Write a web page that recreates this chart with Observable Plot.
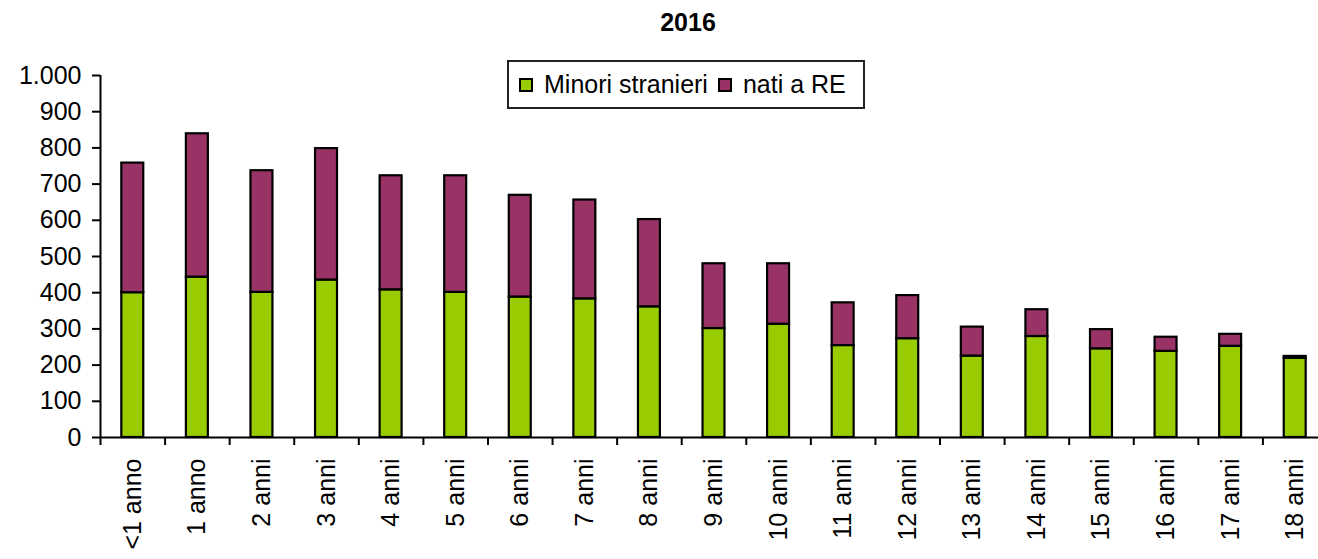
<!DOCTYPE html>
<html><head><meta charset="utf-8">
<script src="https://cdn.jsdelivr.net/npm/d3@7"></script>
<script src="https://cdn.jsdelivr.net/npm/@observablehq/plot@0.6"></script>
<style>
body{margin:0;background:#fff;font-family:"Liberation Sans",Arial,sans-serif;}
#wrap{position:relative;width:1318px;height:559px;overflow:hidden;background:#fff;}
#title{position:absolute;left:688px;top:6px;transform:translateX(-50%);font-weight:bold;font-size:25px;color:#000;line-height:32px;}
#chart{position:absolute;left:0;top:45px;}
#legend{position:absolute;left:507px;top:60px;width:354px;height:45px;border:2px solid #222;background:#fff;display:flex;align-items:center;font-size:25px;color:#000;box-sizing:content-box;}
.item{display:flex;align-items:center;margin-left:10px;}
.sw{width:10px;height:10px;border:2px solid #000;margin-right:11px;}
</style></head><body>
<div id="wrap">
<div id="title">2016</div>
<div id="chart"></div>
<div id="legend"></div>
</div>
<script>
const categories = ["<1 anno","1 anno","2 anni","3 anni","4 anni","5 anni","6 anni","7 anni","8 anni","9 anni","10 anni","11 anni","12 anni","13 anni","14 anni","15 anni","16 anni","17 anni","18 anni"];
const minori = [400, 443, 401, 435, 408, 401, 388, 383, 361, 301, 313, 254, 273, 225, 279, 245, 238, 252, 219];
const nati = [358, 396, 336, 363, 315, 322, 281, 273, 241, 179, 167, 118, 119, 80, 74, 53, 39, 33, 5];
const seriesNames = ["Minori stranieri", "nati a RE"];
const seriesColors = ["#99CC00", "#993366"];
const yTicks = [0, 100, 200, 300, 400, 500, 600, 700, 800, 900, 1000];

const data = categories.flatMap((c, i) => [
  {cat: c, serie: seriesNames[0], v: minori[i]},
  {cat: c, serie: seriesNames[1], v: nati[i]}
]);
const fmt = d3.formatLocale({decimal: ",", thousands: ".", grouping: [3], currency: ["€", ""]}).format(",");
const x0 = 100, x1 = 1327;
const step = (x1 - x0) / categories.length;

const plot = Plot.plot({
  width: 1318, height: 514,
  marginTop: 30, marginBottom: 122, marginLeft: 100, marginRight: 0,
  style: {fontSize: "25px", fontFamily: "'Liberation Sans', Arial, sans-serif", color: "#000", background: "transparent", overflow: "visible"},
  x: {domain: categories, range: [x0, x1], paddingInner: 0.66, paddingOuter: 0.33, round: false, axis: null},
  y: {domain: [0, 1000], axis: null},
  color: {domain: seriesNames, range: seriesColors},
  marks: [
    Plot.barY(data, {x: "cat", y: "v", fill: "serie", stroke: "#000", strokeWidth: 2.2}),
    Plot.axisY({ticks: yTicks, tickFormat: fmt, tickSize: 8, tickPadding: 11, label: null, stroke: "#000", strokeWidth: 2}),
    Plot.axisX({tickSize: 8, dx: -step / 2, tickFormat: () => "", label: null, stroke: "#000", strokeWidth: 2}),
    Plot.axisX({tickSize: 0, tickPadding: 21, tickRotate: -90, label: null}),
    Plot.ruleY([0], {stroke: "#000", strokeWidth: 2}),
    Plot.ruleX([categories[0]], {dx: -step / 2, y1: 0, y2: 1000, stroke: "#000", strokeWidth: 2})
  ]
});
document.getElementById("chart").appendChild(plot);

const legend = document.getElementById("legend");
seriesNames.forEach((n, i) => {
  const it = document.createElement("div");
  it.className = "item";
  const sw = document.createElement("div");
  sw.className = "sw";
  sw.style.background = seriesColors[i];
  const t = document.createElement("span");
  t.textContent = n;
  it.appendChild(sw); it.appendChild(t);
  legend.appendChild(it);
});
</script>
</body></html>
